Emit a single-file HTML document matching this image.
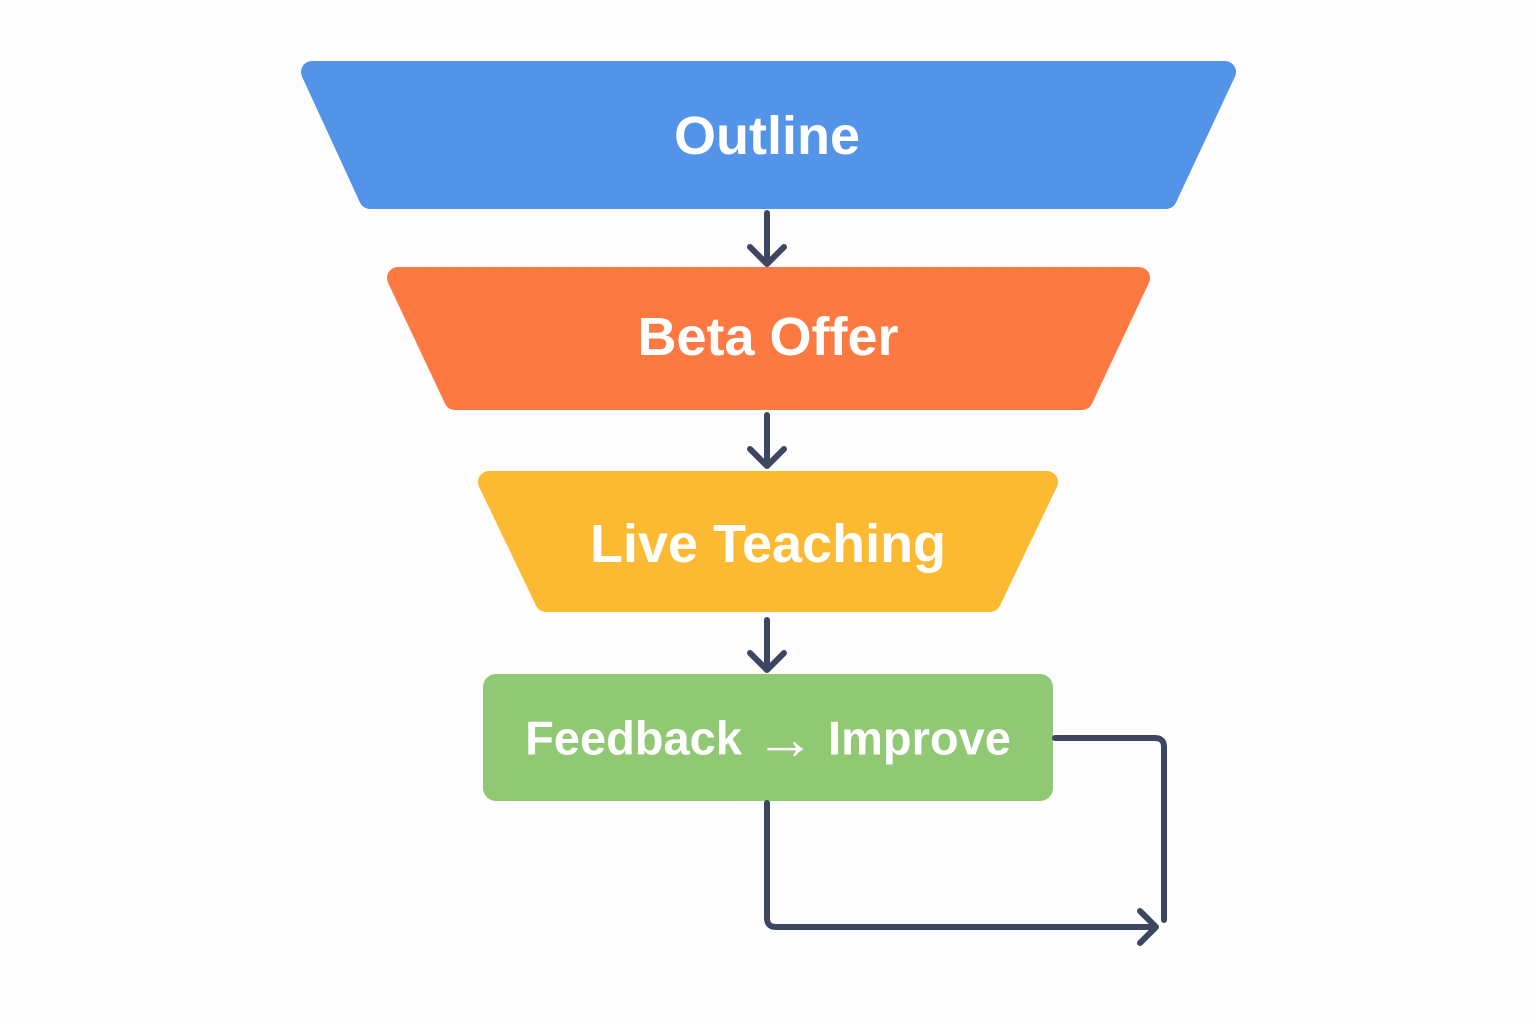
<!DOCTYPE html>
<html><head><meta charset="utf-8"><style>
html,body{margin:0;padding:0;background:#fdfdfd;}
svg{display:block}
text{font-family:"Liberation Sans",sans-serif;font-weight:bold;fill:#fff;text-anchor:middle;dominant-baseline:central}
</style></head><body>
<svg width="1536" height="1024" viewBox="0 0 1536 1024">
<polygon points="312,72 1225,72 1166,198 370,198" fill="#5394E9" stroke="#5394E9" stroke-width="22" stroke-linejoin="round"/>
<polygon points="398,278 1139,278 1082,399 455,399" fill="#FC7A42" stroke="#FC7A42" stroke-width="22" stroke-linejoin="round"/>
<polygon points="489,482 1047,482 990,601 546,601" fill="#FBBA31" stroke="#FBBA31" stroke-width="22" stroke-linejoin="round"/>
<rect x="483" y="674" width="570" height="127" rx="13" fill="#91C873"/>
<g stroke="#3D4660" stroke-width="6" fill="none" stroke-linecap="round" stroke-linejoin="round">
<path d="M767 213V264M750 247L767 264L784 247"/>
<path d="M767 415V466M750 449L767 466L784 449"/>
<path d="M767 620V670M750 653L767 670L784 653"/>
<path d="M1055 738H1155Q1164 738 1164 747V920"/>
<path d="M767 803V918Q767 927 776 927H1155M1140 911L1156 927L1140 943"/>
</g>
<text x="767" y="136" font-size="54">Outline</text>
<text x="768" y="337" font-size="54">Beta Offer</text>
<text x="768" y="544" font-size="54">Live Teaching</text>
<text x="768" y="738" font-size="47">Feedback <tspan font-size="60" font-weight="normal">→</tspan> Improve</text>
</svg>
</body></html>
